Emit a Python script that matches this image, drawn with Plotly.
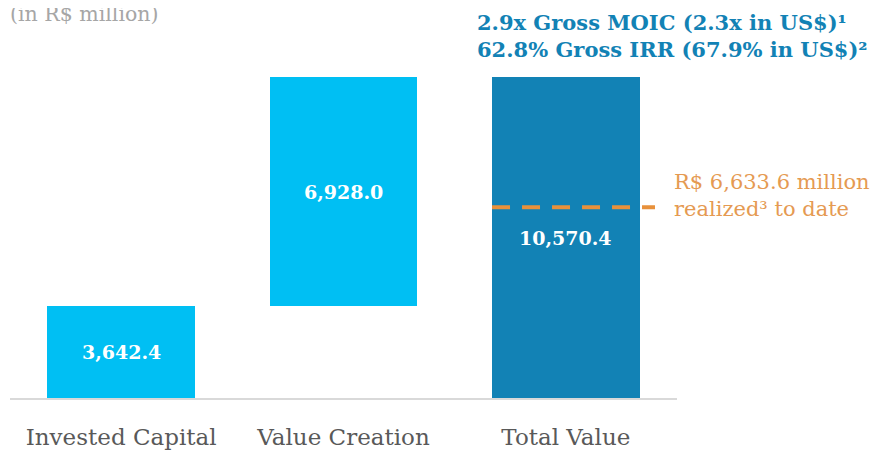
import plotly.graph_objects as go

categories = ["Invested Capital", "Value Creation", "Total Value"]
invested = 3642.4
value_creation = 6928.0
total_value = 10570.4
realized = 6633.6

bar_bases = [0, invested, 0]
bar_values = [invested, value_creation, total_value]
bar_labels = ["3,642.4", "6,928.0", "10,570.4"]
bar_colors = ["#00BFF3", "#00BFF3", "#1282B5"]

title_lines = ["2.9x Gross MOIC (2.3x in US$)¹", "62.8% Gross IRR (67.9% in US$)²"]
unit_label = "(in R$ million)"
realized_label = "R$ 6,633.6 million<br>realized³ to date"

SERIF = "DejaVu Serif"
Y_FLOOR = 859.1
Y_TOP = 12597.4

fig = go.Figure()
fig.add_trace(go.Bar(
    x=categories, y=bar_values, base=bar_bases,
    marker=dict(color=bar_colors, line=dict(width=0)),
    width=0.665,
    hoverinfo="skip", showlegend=False,
))

# value labels centred in the visible part of each bar
for cat, b, v, lab in zip(categories, bar_bases, bar_values, bar_labels):
    lo = max(b, Y_FLOOR)
    fig.add_annotation(x=cat, y=(lo + b + v) / 2, xref="x", yref="y",
                       text=lab, showarrow=False, xanchor="center", yanchor="middle",
                       font=dict(family=SERIF, size=19, color="white", weight="bold"))

fig.add_shape(type="line", xref="x", yref="y",
              x0=1.668, x1=2.401, y0=realized, y1=realized,
              line=dict(color="#E8913B", width=4, dash="18px,12px"))

fig.add_annotation(xref="paper", yref="paper", x=0.9925, y=0.522,
                   xanchor="left", yanchor="middle", align="left",
                   text=realized_label, showarrow=False,
                   font=dict(family=SERIF, size=21, color="#E59A52"))

fig.add_annotation(xref="paper", yref="paper", x=0.6971, y=0.933,
                   xanchor="left", yanchor="middle", align="left",
                   text=title_lines[0] + "<br>" + title_lines[1], showarrow=False,
                   font=dict(family=SERIF, size=21, color="#1282B5", weight="bold"))

fig.add_annotation(xref="paper", yref="paper", x=-0.003, y=0.9897,
                   xanchor="left", yanchor="middle", align="left",
                   text=unit_label, showarrow=False,
                   font=dict(family=SERIF, size=20.5, color="#A6A6A6"))

fig.update_layout(
    width=881, height=453,
    margin=dict(l=2, r=212, t=2, b=63),
    plot_bgcolor="white", paper_bgcolor="white",
    bargap=0,
)
fig.update_xaxes(range=[-0.5, 2.5], showline=True, linecolor="#D9D9D9", linewidth=2,
                 ticks="", showgrid=False, zeroline=False, ticklabelstandoff=17,
                 tickfont=dict(family=SERIF, size=23, color="#595959"))
fig.update_yaxes(range=[Y_FLOOR, Y_TOP], visible=False, showgrid=False, zeroline=False)

fig.write_html("out.html")
